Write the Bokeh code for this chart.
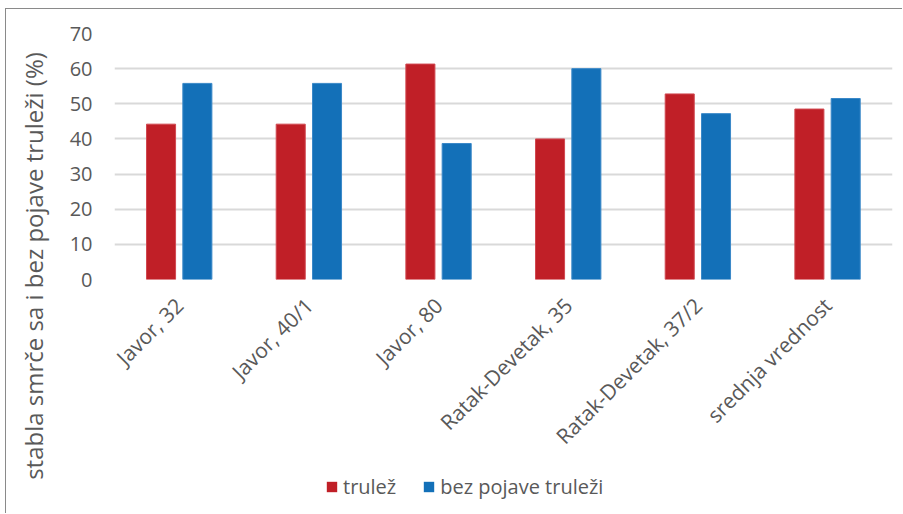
import math
from bokeh.plotting import figure
from bokeh.models import (FactorRange, Range1d, ColumnDataSource, Legend, LegendItem,
                          FixedTicker, Div)
from bokeh.layouts import row, column
from bokeh.transform import dodge
from bokeh.embed import file_html
from bokeh.resources import INLINE

categories = ["Javor, 32", "Javor, 40/1", "Javor, 80", "Ratak-Devetak, 35",
              "Ratak-Devetak, 37/2", "srednja vrednost"]
trulez = [44.2, 44.2, 61.3, 40.0, 52.8, 48.5]
bez_pojave = [55.8, 55.8, 38.7, 60.0, 47.2, 51.5]
y_ticks = [0, 10, 20, 30, 40, 50, 60, 70]
series_names = ["trulež", "bez pojave truleži"]
y_label = "stabla smrče sa i bez pojave truleži (%)"

FONT = "Open Sans"
TXT = "#595959"
RED = "#C01F27"
BLUE = "#1370B8"
RED_EDGE = "#d04850"
BLUE_EDGE = "#3a88c8"

src = ColumnDataSource(dict(cat=categories, a=trulez, b=bez_pojave))

# ---- main chart ----
p = figure(width=842, height=455,
           x_range=FactorRange(*categories, range_padding=0),
           y_range=Range1d(0, 70),
           output_backend="svg", toolbar_location=None,
           min_border_left=54, min_border_right=10,
           min_border_top=24, min_border_bottom=185, margin=0)

p.vbar(x=dodge("cat", -0.141, range=p.x_range), top="a", width=0.224,
       source=src, fill_color=RED, line_color=RED_EDGE, line_width=1)
p.vbar(x=dodge("cat", 0.139, range=p.x_range), top="b", width=0.224,
       source=src, fill_color=BLUE, line_color=BLUE_EDGE, line_width=1)

p.outline_line_color = None
p.xgrid.grid_line_color = None
p.ygrid.grid_line_color = "#d9d9d9"
p.ygrid.grid_line_width = 2
p.yaxis.ticker = FixedTicker(ticks=y_ticks)

for ax in (p.xaxis[0], p.yaxis[0]):
    ax.axis_line_color = None
    ax.major_tick_line_color = None
    ax.minor_tick_line_color = None
    ax.major_label_text_font = FONT
    ax.major_label_text_color = TXT
    ax.major_label_text_font_size = "20px"

p.yaxis.major_label_standoff = 16
p.xaxis.major_label_text_font_size = "21px"
p.xaxis.major_label_orientation = math.pi / 4
p.xaxis.major_label_standoff = 16

# ---- legend strip ----
lg = figure(width=842, height=49, x_range=Range1d(0, 1), y_range=Range1d(0, 1),
            output_backend="svg", toolbar_location=None, margin=0,
            min_border_left=0, min_border_right=0, min_border_top=0, min_border_bottom=0)
lg.axis.visible = False
lg.grid.visible = False
lg.outline_line_color = None
e = ColumnDataSource(dict(x=[-5.0], top=[-5.0]))
g1 = lg.vbar(x="x", top="top", bottom=-6.0, width=0.1, source=e,
             fill_color=RED, line_color=None)
g2 = lg.vbar(x="x", top="top", bottom=-6.0, width=0.1, source=e,
             fill_color=BLUE, line_color=None)
legend = Legend(items=[LegendItem(label=series_names[0], renderers=[g1]),
                       LegendItem(label=series_names[1], renderers=[g2])],
                orientation="horizontal", location=(211, 13),
                glyph_width=13, glyph_height=13, label_standoff=5, spacing=26,
                padding=0, margin=0, border_line_alpha=0, background_fill_alpha=0,
                label_text_font=FONT, label_text_color=TXT, label_text_font_size="20px")
lg.add_layout(legend, "center")

# ---- vertical axis title ----
ylab_html = (
    '<div style="position:absolute; left:-202px; top:242px; width:460px; height:30px; '
    'line-height:30px; text-align:center; white-space:nowrap; transform:rotate(-90deg); '
    'transform-origin:center; font-family:\'Open Sans\'; font-size:24px; color:'
    + TXT + ';">' + y_label + '</div>')
ylab = Div(text=ylab_html, width=54, height=504, margin=0,
           styles={"overflow": "visible", "position": "relative"})

layout = row(ylab, column(p, lg, spacing=0), spacing=0,
             styles={"margin-left": "5px", "margin-top": "8px",
                     "border-left": "1.5px solid #8a8a8a",
                     "border-top": "1.5px solid #8a8a8a"})

open("out.html", "w").write(file_html(layout, INLINE))
